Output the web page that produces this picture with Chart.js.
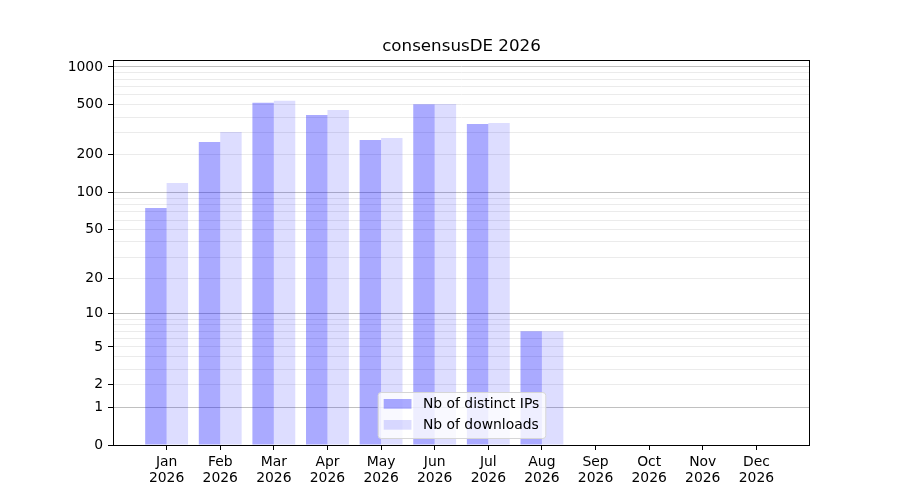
<!DOCTYPE html>
<html>
<head>
<meta charset="utf-8">
<script src="https://cdn.jsdelivr.net/npm/chart.js@4/dist/chart.umd.min.js"></script>
<style>
  html, body { margin: 0; padding: 0; background: #fff; }
  #wrap { width: 900px; height: 500px; }
</style>
</head>
<body>
<div id="wrap"><canvas id="chart" width="900" height="500"></canvas></div>
<script>
// data
const months = ['Jan', 'Feb', 'Mar', 'Apr', 'May', 'Jun', 'Jul', 'Aug', 'Sep', 'Oct', 'Nov', 'Dec'];
const year = '2026';
const distinctIPs = [75, 253, 520, 415, 262, 505, 352, 7, 0, 0, 0, 0];
const downloads = [119, 304, 539, 455, 272, 508, 358, 7, 0, 0, 0, 0];

// y axis: log10(1 + v) scale
const yTicks = [0, 1, 2, 3, 4, 5, 6, 7, 8, 9, 10, 20, 30, 40, 50, 60, 70, 80, 90,
                100, 200, 300, 400, 500, 600, 700, 800, 900, 1000];
const yLabels = [0, 1, 2, 5, 10, 20, 50, 100, 200, 500, 1000];
const yMajorGrid = [1, 10, 100, 1000];

class Log1pScale extends Chart.Scale {
    static id = 'log1p';
    static defaults = {};

    determineDataLimits() {
        const { min, max } = this.getMinMax(false);
        this.min = Number.isFinite(this.options.min) ? this.options.min : Math.max(0, min);
        this.max = Number.isFinite(this.options.max) ? this.options.max : max;
    }
    buildTicks() {
        return yTicks.filter(v => v >= this.min && v <= this.max).map(v => ({ value: v }));
    }
    configure() {
        super.configure();
        this._startValue = Math.log10(1 + this.min);
        this._valueRange = Math.log10(1 + this.max) - this._startValue;
    }
    getLabelForValue(value) {
        return String(value);
    }
    getPixelForValue(value) {
        if (value === undefined || value === null) value = this.min;
        return this.getPixelForDecimal((Math.log10(1 + value) - this._startValue) / this._valueRange);
    }
    getValueForPixel(pixel) {
        const d = this.getDecimalForPixel(pixel);
        return Math.pow(10, this._startValue + d * this._valueRange) - 1;
    }
}
Chart.register(Log1pScale);

Chart.defaults.font.family = "'DejaVu Sans', sans-serif";
Chart.defaults.font.size = 13.9;
Chart.defaults.color = '#000';

// spines on all four sides, plus title centred over the plot area
const frame = {
    id: 'frame',
    afterDatasetsDraw(chart) {
        const { ctx, chartArea: a } = chart;
        ctx.save();
        ctx.strokeStyle = '#000';
        ctx.lineWidth = 1;
        ctx.strokeRect(Math.round(a.left) + 0.5, Math.round(a.top) + 0.5,
                       Math.round(a.right - a.left) - 1, Math.round(a.bottom - a.top));
        ctx.font = "16.7px 'DejaVu Sans'";
        ctx.fillStyle = '#000';
        ctx.textAlign = 'center';
        ctx.textBaseline = 'middle';
        ctx.fillText('consensusDE ' + year, (a.left + a.right) / 2, a.top - 13);
        ctx.restore();
    }
};

const boxLegend = {
    id: 'boxLegend',
    afterDraw(chart) {
        const { ctx, chartArea: a } = chart;
        const sets = chart.data.datasets;
        ctx.save();
        ctx.font = "13.9px 'DejaVu Sans'";
        const textW = Math.max(...sets.map(d => ctx.measureText(d.label).width));
        const w = 6 + 27.8 + 11.4 + textW + 6;
        const h = 46;
        const x = (a.left + a.right) / 2 - w / 2;
        const y = a.bottom - 7 - h;
        ctx.beginPath();
        ctx.roundRect(x + 0.5, y + 0.5, w, h, 3);
        ctx.fillStyle = 'rgba(255,255,255,0.8)';
        ctx.fill();
        ctx.strokeStyle = '#d6d6d6';
        ctx.lineWidth = 1;
        ctx.stroke();
        sets.forEach((d, i) => {
            const rowY = y + 12 + i * 21;
            ctx.fillStyle = d.backgroundColor;
            ctx.fillRect(x + 6, rowY - 5, 27.8, 9.7);
            ctx.fillStyle = '#000';
            ctx.textBaseline = 'middle';
            ctx.fillText(d.label, x + 6 + 27.8 + 11.4, rowY);
        });
        ctx.restore();
    }
};

new Chart(document.getElementById('chart'), {
    type: 'bar',
    data: {
        datasets: [{
            label: 'Nb of distinct IPs',
            data: distinctIPs.map((v, i) => ({ x: i, y: v })),
            backgroundColor: 'rgba(0,0,255,0.333)',
            borderWidth: 0
        }, {
            label: 'Nb of downloads',
            data: downloads.map((v, i) => ({ x: i, y: v })),
            backgroundColor: 'rgba(0,0,255,0.133)',
            borderWidth: 0
        }]
    },
    options: {
        responsive: false,
        animation: false,
        devicePixelRatio: 1,
        categoryPercentage: 0.8,
        barPercentage: 1.0,
        layout: { padding: { left: 0, right: 90, top: 60, bottom: 0 } },
        plugins: {
            legend: { display: false },
            tooltip: { enabled: false },
            title: { display: false }
        },
        scales: {
            x: {
                type: 'linear',
                min: -1,
                max: 12,
                offset: false,
                afterBuildTicks: s => { s.ticks = months.map((m, i) => ({ value: i })); },
                afterFit: s => { s.height = 55; },
                border: { display: false },
                grid: { offset: false, drawOnChartArea: false, drawTicks: true, tickLength: 5, tickColor: '#000' },
                ticks: {
                    autoSkip: false,
                    maxRotation: 0,
                    padding: 5,
                    font: { lineHeight: 1.1 },
                    callback: v => [months[v], year]
                }
            },
            y: {
                type: 'log1p',
                min: 0,
                max: 1136,
                afterFit: s => { s.width = 113; },
                border: { display: false },
                grid: {
                    color: c => c.tick.value === 0 ? 'transparent'
                        : (yMajorGrid.includes(c.tick.value) ? '#c0c0c0' : '#ebebeb'),
                    tickLength: 5,
                    tickColor: c => yLabels.includes(c.tick.value) ? '#000' : 'transparent'
                },
                ticks: {
                    autoSkip: false,
                    padding: 5,
                    callback: v => yLabels.includes(v) ? String(v) : ''
                }
            }
        }
    },
    plugins: [frame, boxLegend]
});
</script>
</body>
</html>
